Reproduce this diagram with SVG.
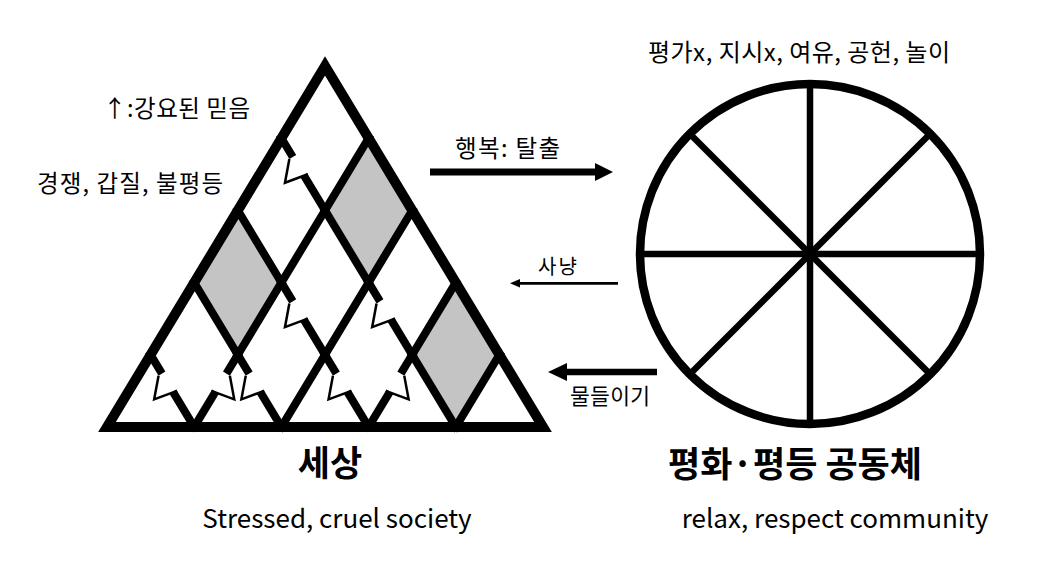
<svg xmlns="http://www.w3.org/2000/svg" xmlns:xlink="http://www.w3.org/1999/xlink" width="1040" height="571" viewBox="0 0 1040 571">
<style>
text{font-family:"Noto Sans CJK KR","Noto Sans",sans-serif;fill:#000}
.lat{stroke:#000;stroke-width:8;fill:none}
.sq{stroke-linecap:square}
.thin{stroke:#000;stroke-width:2.5;fill:none;stroke-linejoin:miter}
.dia{fill:#c4c4c4;stroke:none}
.spoke{stroke:#000;stroke-width:6.5}
.lbl{font-size:23.5px}
.sm{font-size:20px}
.title{font-size:35px;font-weight:bold}
.en{font-size:26px}
</style>
<defs>
<g id="crack">
<line class="lat" x1="-4" y1="0" x2="22" y2="0"/>
<line class="lat" x1="43" y1="0" x2="88" y2="0"/>
<polyline class="thin" points="22,4 40,20 44.5,-4"/>
</g>
</defs>
<rect width="1040" height="571" fill="#fff"/>

<g id="world">
<polygon class="dia" points="368.6,138.2 412.2,210.4 368.6,282.6 325,210.4"/>
<polygon class="dia" points="237.8,210.4 281.4,282.6 237.8,354.8 194.2,282.6"/>
<polygon class="dia" points="455.8,282.6 499.4,354.8 455.8,427 412.2,354.8"/>
<g class="lat sq">
<line x1="325" y1="210.4" x2="368.6" y2="282.6"/>
<line x1="412.2" y1="354.8" x2="455.8" y2="427"/>
<line x1="237.8" y1="210.4" x2="281.4" y2="282.6"/>
<line x1="194.2" y1="282.6" x2="237.8" y2="354.8"/>
<line x1="368.6" y1="138.2" x2="237.8" y2="354.8"/>
<line x1="412.2" y1="210.4" x2="281.4" y2="427"/>
<line x1="455.8" y1="282.6" x2="412.2" y2="354.8"/>
<line x1="499.4" y1="354.8" x2="455.8" y2="427"/>
</g>
<use xlink:href="#crack" transform="translate(281.4,138.2) rotate(58.87)"/>
<use xlink:href="#crack" transform="translate(368.6,282.6) rotate(58.87)"/>
<use xlink:href="#crack" transform="translate(281.4,282.6) rotate(58.87)"/>
<use xlink:href="#crack" transform="translate(325,354.8) rotate(58.87)"/>
<use xlink:href="#crack" transform="translate(237.8,354.8) rotate(58.87)"/>
<use xlink:href="#crack" transform="translate(150.6,354.8) rotate(58.87)"/>
<use xlink:href="#crack" transform="translate(237.8,354.8) rotate(121.13) scale(1,-1)"/>
<use xlink:href="#crack" transform="translate(412.2,354.8) rotate(121.13) scale(1,-1)"/>
<polygon points="325,66 107,427 543,427" fill="none" stroke="#000" stroke-width="10" stroke-linejoin="miter"/>
</g>

<g id="community">
<circle cx="810" cy="254" r="170" fill="none" stroke="#000" stroke-width="8.5"/>
<line class="spoke" x1="810" y1="84" x2="810" y2="424"/>
<line class="spoke" x1="640" y1="254" x2="980" y2="254"/>
<line class="spoke" x1="689.8" y1="133.8" x2="930.2" y2="374.2"/>
<line class="spoke" x1="930.2" y1="133.8" x2="689.8" y2="374.2"/>
</g>

<g id="connectors">
<line x1="430" y1="172" x2="597" y2="172" stroke="#000" stroke-width="7"/>
<polygon points="595,163 613,172 595,181"/>
<line x1="618" y1="283.3" x2="518" y2="283.3" stroke="#000" stroke-width="2.8"/>
<polygon points="520,279 510,283.3 520,287.6"/>
<line x1="657" y1="372" x2="565" y2="372" stroke="#000" stroke-width="6.7"/>
<polygon points="567,363 548,372 567,381"/>
</g>

<g id="labels">
<text class="lbl" x="103" y="117" textLength="147">↑:강요된 믿음</text>
<text class="lbl" x="37" y="192" textLength="186">경쟁, 갑질, 불평등</text>
<text class="lbl" x="455" y="157" textLength="105">행복: 탈출</text>
<text class="sm" x="538" y="274" textLength="39">사냥</text>
<text class="sm" x="570" y="404" style="font-size:21.5px" textLength="80">물들이기</text>
<text class="lbl" x="648" y="61" style="font-size:24px" textLength="302">평가x, 지시x, 여유, 공헌, 놀이</text>
<text class="title" x="330" y="476" text-anchor="middle">세상</text>
<text class="en" x="337" y="528" text-anchor="middle">Stressed, cruel society</text>
<text class="title" x="795" y="477" text-anchor="middle">평화·평등 공동체</text>
<text class="en" x="835" y="528" text-anchor="middle">relax, respect community</text>
</g>
</svg>
